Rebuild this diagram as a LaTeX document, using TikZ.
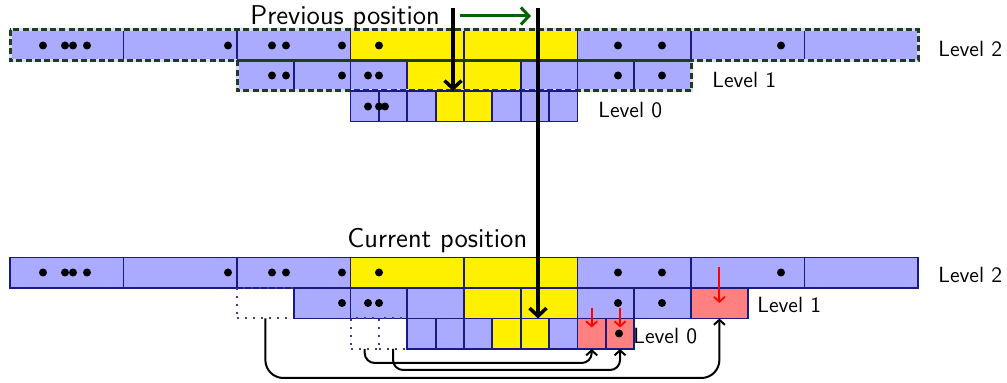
\documentclass[tikz,border=0pt]{standalone}
\usepackage{fontspec}
\usetikzlibrary{arrows.meta}

\definecolor{cellblue}{HTML}{AAAAFF}
\definecolor{cellline}{HTML}{1A1A80}
\definecolor{hot}{HTML}{FFF000}
\definecolor{refine}{HTML}{FF8080}
\definecolor{outline}{HTML}{1E3C1E}
\definecolor{shiftgreen}{HTML}{006400}

\tikzset{
  cell/.style={draw=cellline, line width=0.9pt, inner sep=0pt, outer sep=0pt, minimum height=15.25pt},
  w2/.style={cell, minimum width=56.75pt},
  w1/.style={cell, minimum width=28.375pt},
  w0/.style={cell, minimum width=14.1875pt},
  ghost/.style={draw=cellline!85, line width=1pt, dash pattern=on 1pt off 3pt},
  framebase/.style={draw=cellblue!45!white, line width=1.5pt},
  frame/.style={draw=outline, line width=1.5pt, dash pattern=on 3pt off 1.6pt},
  lvl/.style={anchor=base west, inner sep=0pt, font=\sffamily\fontsize{11}{13}\selectfont},
  title/.style={anchor=base west, inner sep=0pt, font=\sffamily\fontsize{13.6}{16}\selectfont},
  move/.style={line width=1.75pt, -{Straight Barb[length=4pt,width=8.5pt]}},
  remap/.style={line width=1pt, -{Straight Barb[length=2.5pt,width=5.5pt]}},
  split/.style={red, line width=0.9pt, -{Straight Barb[length=2.5pt,width=5.5pt]}},
}

\begin{document}
\begin{tikzpicture}[x=0.5pt, y=-0.5pt]
\useasboundingbox (0,0) rectangle (1007,383);

% ---------- previous position: hierarchy of levels ----------
\foreach \i/\c in {0/cellblue,1/cellblue,2/cellblue,3/hot,4/hot,5/cellblue,6/cellblue,7/cellblue}
  \node[w2, fill=\c] (t2-\i) at ({66.75+113.5*\i},45.25) {};
\foreach \j/\c in {0/cellblue,1/cellblue,2/cellblue,3/hot,4/hot,5/cellblue,6/cellblue,7/cellblue}
  \node[w1, fill=\c] (t1-\j) at ({265.375+56.75*\j},75.75) {};
% dashed outlines of the coarse levels
\draw[framebase] (t2-0.north west) rectangle (t2-7.south east);
\draw[framebase] (t1-0.north west) rectangle (t1-7.south east);
\draw[frame] (t2-0.north west) rectangle (t2-7.south east);
\draw[frame] (t1-0.north west) rectangle (t1-7.south east);
\foreach \k/\c in {0/cellblue,1/cellblue,2/cellblue,3/hot,4/hot,5/cellblue,6/cellblue,7/cellblue}
  \node[w0, fill=\c] (t0-\k) at ({364.6875+28.375*\k},106.25) {};

% ---------- current position: shifted hierarchy ----------
\foreach \i/\c in {0/cellblue,1/cellblue,2/cellblue,3/hot,4/hot,5/cellblue,6/cellblue,7/cellblue}
  \node[w2, fill=\c] (b2-\i) at ({66.75+113.5*\i},272.75) {};
\node[w1, ghost] (b1-0) at (265.375,303.25) {};
\foreach \j/\c in {1/cellblue,2/cellblue,3/cellblue,4/hot,5/hot,6/cellblue,7/cellblue,8/refine}
  \node[w1, fill=\c] (b1-\j) at ({265.375+56.75*\j},303.25) {};
\node[w0, ghost] (b0-0) at (364.6875,333.75) {};
\node[w0, ghost] (b0-1) at (393.0625,333.75) {};
\foreach \k/\c in {2/cellblue,3/cellblue,4/cellblue,5/hot,6/hot,7/cellblue,8/refine,9/refine}
  \node[w0, fill=\c] (b0-\k) at ({364.6875+28.375*\k},333.75) {};

% ---------- particles ----------
\foreach \x in {43,65,73,87,228,272,286,342,379,618,662,781} {
  \fill (\x,45.5) circle[radius=2pt];
  \fill (\x,272.5) circle[radius=2pt];
}
\foreach \x in {272,286,342,368,379,618,662}
  \fill (\x,75.5) circle[radius=2pt];
\foreach \x in {368,379,385}
  \fill (\x,106.5) circle[radius=2pt];
\foreach \x in {342,368,379,618,662}
  \fill (\x,303) circle[radius=2pt];
\fill (619,333.5) circle[radius=2pt];

% ---------- remapping of vacated cells ----------
\draw[remap, rounded corners=9pt] (b1-0.south) -- ++(0,59.5) -| (b1-8.south);
\draw[remap, rounded corners=5pt] (b0-0.south) -- ++(0,14) -| (b0-8.south);
\draw[remap, rounded corners=5pt] (b0-1.south) -- ++(0,21) -| (b0-9.south);

% ---------- refinement of new cells ----------
\draw[split] ([yshift=5.25pt]b0-8.north) -- ([yshift=-4.5pt]b0-8.north);
\draw[split] ([yshift=5.25pt]b0-9.north) -- ([yshift=-4.5pt]b0-9.north);
\draw[split] ([yshift=10.5pt]b1-8.north) -- ([yshift=-7.5pt]b1-8.north);

% ---------- positions and motion ----------
\coordinate (prevStart) at (453,8);
\coordinate (prevEnd) at (453,91);
\coordinate (curStart) at (538,8);
\coordinate (curEnd) at (538,318.5);
\coordinate (shiftA) at (460,16);
\coordinate (shiftB) at (531,16);
\draw[move] (prevStart) -- (prevEnd);
\draw[move] (curStart) -- (curEnd);
\draw[move, draw=shiftgreen, line width=1.5pt] (shiftA) -- (shiftB);

% ---------- labels ----------
\node[title] (prevLabel) at (250,25) {Previous position};
\node[title] (curLabel) at (347,248) {Current position};
\node[lvl] (t2Label) at (938,56.7) {Level 2};
\node[lvl] (t1Label) at (712,88) {Level 1};
\node[lvl] (t0Label) at (598,118) {Level 0};
\node[lvl] (b2Label) at (938,283) {Level 2};
\node[lvl] (b1Label) at (757,313) {Level 1};
\node[lvl] (b0Label) at (633,344) {Level 0};
\end{tikzpicture}
\end{document}
